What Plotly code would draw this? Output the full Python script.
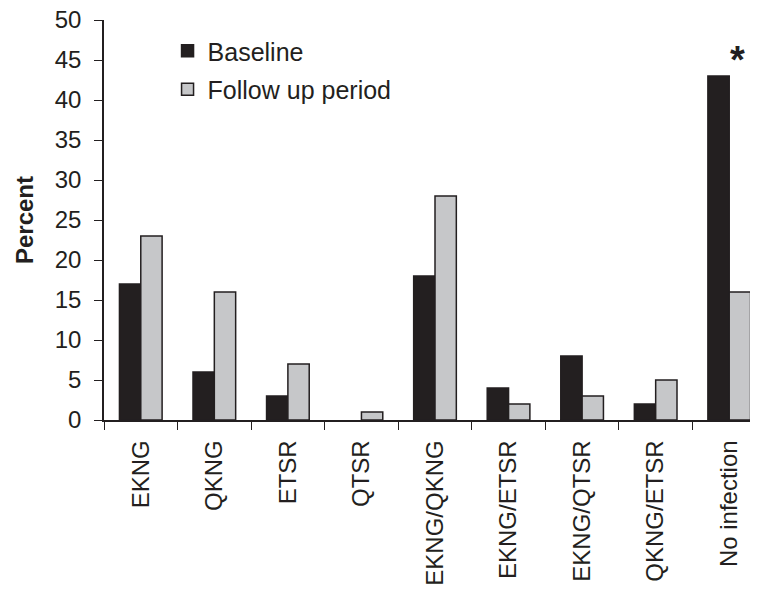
import plotly.graph_objects as go

categories = ["EKNG", "QKNG", "ETSR", "QTSR", "EKNG/QKNG", "EKNG/ETSR",
              "EKNG/QTSR", "QKNG/ETSR", "No infection"]
baseline = [17, 6, 3, 0, 18, 4, 8, 2, 43]
follow_up = [23, 16, 7, 1, 28, 2, 3, 5, 16]
y_ticks = [0, 5, 10, 15, 20, 25, 30, 35, 40, 45, 50]

FONT = "Liberation Sans, Arial, sans-serif"
INK = "#231f20"


def outline_widths(values):
    # no outline on empty (zero-height) bars, as in the original
    return [0 if v == 0 else 1.5 for v in values]


fig = go.Figure()
fig.add_trace(go.Bar(
    x=categories, y=baseline, name="Baseline", legendgroup="a",
    marker=dict(color=INK, line=dict(color=INK, width=outline_widths(baseline))),
))
fig.add_trace(go.Bar(
    x=categories, y=follow_up, name="Follow up period", legendgroup="b",
    marker=dict(color="#c6c7c9",
                line=dict(color=INK, width=outline_widths(follow_up))),
))

fig.add_annotation(
    x=8.11, y=45.0, xref="x", yref="y", text="<b>*</b>", showarrow=False,
    font=dict(family=FONT, size=38, color=INK),
)

fig.update_layout(
    width=758, height=589,
    margin=dict(l=96, r=0, t=12, b=177, autoexpand=False),
    paper_bgcolor="white", plot_bgcolor="white",
    barmode="group", bargap=0.42, bargroupgap=0,
    font=dict(family=FONT, size=24, color=INK),
    legend=dict(
        x=0.096, y=0.98, xanchor="left", yanchor="top",
        font=dict(family=FONT, size=25, color=INK),
        traceorder="grouped", tracegroupgap=3,
        bgcolor="rgba(0,0,0,0)",
    ),
    xaxis=dict(
        type="category", range=[-0.5, 8.5], automargin=False,
        tickson="boundaries", ticks="outside", ticklen=8, tickwidth=1.2,
        tickcolor=INK, tickangle=-90, ticklabelstandoff=9,
        ticklabeloverflow="allow",
        showline=True, linecolor=INK, linewidth=1.5,
        showgrid=False, tickfont=dict(family=FONT, size=24, color=INK),
    ),
    yaxis=dict(
        range=[0, 50.001], tickvals=y_ticks, ticks="outside", ticklen=8,
        tickwidth=1.2, tickcolor=INK, automargin=False, ticklabelstandoff=8,
        ticklabeloverflow="allow",
        showline=True, linecolor=INK, linewidth=1.5, showgrid=False,
        zeroline=False, tickfont=dict(family=FONT, size=24, color=INK),
        title=dict(text="<b>Percent</b>", standoff=14,
                   font=dict(family=FONT, size=24, color=INK)),
    ),
    showlegend=True,
)

fig.write_html("out.html")
